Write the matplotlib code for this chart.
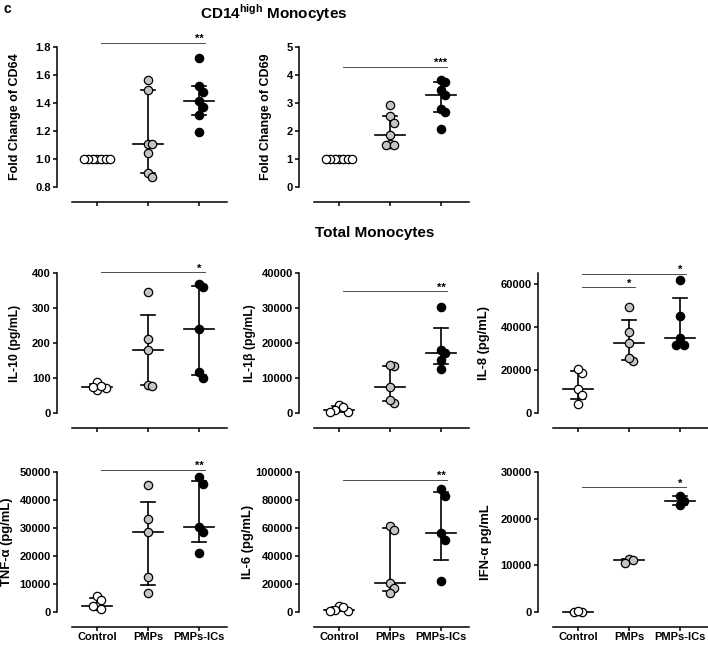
import numpy as np
import matplotlib
matplotlib.use("Agg")
import matplotlib.pyplot as plt

plt.rcParams['font.family'] = ['Liberation Sans', 'DejaVu Sans']
plt.rcParams['font.weight'] = 'bold'
plt.rcParams['mathtext.fontset'] = 'custom'
plt.rcParams['mathtext.rm'] = 'Liberation Sans:bold'
plt.rcParams['mathtext.bf'] = 'Liberation Sans:bold'

groups = ["Control", "PMPs", "PMPs-ICs"]
fills = ["white", "#c4c4c4", "black"]

# values, one list per group
cd64 = [[1.0, 1.0, 1.0, 1.0, 1.0, 1.0, 1.0],
        [1.565, 1.49, 1.11, 1.11, 1.04, 0.90, 0.875],
        [1.725, 1.52, 1.48, 1.415, 1.37, 1.315, 1.19]]
cd69 = [[1.0, 1.0, 1.0, 1.0, 1.0, 1.0, 1.0],
        [2.92, 2.54, 2.28, 1.86, 1.52, 1.50, 1.51],
        [3.82, 3.75, 3.46, 3.27, 2.80, 2.68, 2.07]]
il10 = [[88, 72, 66, 74, 78],
        [346, 212, 179, 80, 78],
        [368, 360, 240, 118, 100]]
il1b = [[2275, 760, 280, 280, 1600],
        [13400, 13700, 7400, 3000, 3700],
        [30400, 18000, 17060, 15070, 12700]]
il8 = [[18650, 20200, 11040, 8400, 4200],
       [49100, 37460, 32330, 23940, 25650],
       [61560, 45080, 34970, 31550, 31550]]
tnfa = [[2270, 1070, 5850, 2270, 4300],
        [45470, 33180, 28520, 12410, 6920],
        [48090, 45700, 30310, 28640, 21240]]
il6 = [[4300, 800, 1700, 600, 3500],
       [61100, 58700, 20500, 17200, 13400],
       [88000, 83000, 56300, 51500, 22400]]
ifna = [[100, 80, 120],
        [11300, 10600, 11100],
        [24770, 23840, 23010]]

# (row, col, ylabel, data, ylim, yticks, significance [(g0, g1, y, stars)])
panels = [
    (0, 0, "Fold Change of CD64", cd64, (0.8, 1.8), np.arange(0.8, 1.81, 0.2), [(0, 2, 1.83, "**")]),
    (0, 1, "Fold Change of CD69", cd69, (0, 5), np.arange(0, 6, 1), [(0, 2, 4.29, "***")]),
    (1, 0, "IL-10 (pg/mL)", il10, (0, 400), np.arange(0, 401, 100), [(0, 2, 402, "*")]),
    (1, 1, "IL-1β (pg/mL)", il1b, (0, 40000), np.arange(0, 40001, 10000), [(0, 2, 34800, "**")]),
    (1, 2, "IL-8 (pg/mL)", il8, (0, 65000), np.arange(0, 60001, 20000),
     [(0, 2, 64700, "*"), (0, 1, 58300, "*")]),
    (2, 0, "TNF-α (pg/mL)", tnfa, (0, 50000), np.arange(0, 50001, 10000), [(0, 2, 50800, "**")]),
    (2, 1, "IL-6 (pg/mL)", il6, (0, 100000), np.arange(0, 100001, 20000), [(0, 2, 94500, "**")]),
    (2, 2, "IFN-α pg/mL", ifna, (0, 30000), np.arange(0, 30001, 10000), [(0, 2, 26700, "*")]),
]

W, H = 708, 645
col_left = [71.5, 313.5, 552.5]
row_top = [47, 273, 472]
ax_w, ax_h = 155.5, 140
# pixel x of the right edge of each rotated y label
label_x = [[21, 272, 0], [21, 256, 490], [13, 254, 492]]
label_size = [[9, 9, 0], [8.8, 8.8, 9.4], [9.4, 9.4, 9.4]]


def swarm_offsets(ax, vals, dx=4.4, dy=7.5):
    # simple column swarm in pixel space: points closer than dy vertically
    # are pushed sideways in steps of dx
    vals = np.asarray(vals, dtype=float)
    yp = ax.transData.transform(np.column_stack([np.zeros(len(vals)), vals]))[:, 1]
    xunit = ax.transData.transform([[1, 0]])[0, 0] - ax.transData.transform([[0, 0]])[0, 0]
    placed = []
    offs = np.zeros(len(vals))
    cands = [0.0]
    for k in range(1, 20):
        cands += [k * dx, -k * dx]
    for i in np.argsort(-vals, kind="stable"):
        for c in cands:
            if all(abs(c - px) >= dx * 0.99 or abs(yp[i] - py) >= dy for px, py in placed):
                break
        placed.append((c, yp[i]))
        offs[i] = c / xunit
    return offs


fig = plt.figure(figsize=(W / 100, H / 100), dpi=100)

for row, col, ylabel, data, ylim, yticks, sigs in panels:
    ax = fig.add_axes([col_left[col] / W, 1 - (row_top[row] + ax_h) / H, ax_w / W, ax_h / H])
    ax.set_xlim(-0.5, 2.55)
    ax.set_ylim(*ylim)
    for s in ["top", "right"]:
        ax.spines[s].set_visible(False)
    ax.spines["left"].set_position(("outward", 10.5))
    ax.spines["bottom"].set_position(("outward", 11))
    for s in ["left", "bottom"]:
        ax.spines[s].set_linewidth(1.1)
    ax.set_yticks(yticks)
    if ylim[1] < 2:
        ax.set_yticklabels([f"{t:.1f}" for t in yticks])
    else:
        ax.set_yticklabels([f"{t:.0f}" for t in yticks])
    ax.set_xticks(range(3))
    if row == 2:
        ax.set_xticklabels(groups)
    else:
        ax.set_xticklabels([])
    ax.tick_params(direction="out", length=3, width=1.1, labelsize=8, pad=1.5)
    ax.tick_params(axis="x", pad=0.5)
    ax.set_ylabel(ylabel, fontsize=label_size[row][col], fontweight="bold")
    ax.yaxis.set_label_coords((label_x[row][col] - col_left[col]) / ax_w, 0.5)

    for g, vals in enumerate(data):
        q1, med, q3 = np.percentile(vals, [25, 50, 75], method="weibull")
        ax.plot([g - 0.3, g + 0.3], [med, med], color="black", lw=1.2, zorder=2, clip_on=False)
        ax.plot([g, g], [q1, q3], color="black", lw=1.2, zorder=2, clip_on=False)
        for q in (q1, q3):
            ax.plot([g - 0.14, g + 0.14], [q, q], color="black", lw=1.2, zorder=2, clip_on=False)
        offs = swarm_offsets(ax, vals)
        ax.scatter(g + offs, vals, s=36, facecolor=fills[g], edgecolor="black",
                   linewidth=0.9, zorder=3, clip_on=False)

    for g0, g1, y, stars in sigs:
        ax.plot([g0 + 0.08, g1 + 0.12], [y, y], color="0.3", lw=0.7, clip_on=False)
        ax.annotate(stars, (g1, y), xytext=(0, -1), textcoords="offset points",
                    ha="center", va="bottom", fontsize=8, fontweight="bold", annotation_clip=False)

fig.text(3 / W, 1 - 9 / H, "c", fontsize=10, fontweight="bold", va="center")
fig.text(274 / W, 1 - 13 / H, r"CD14$^{\mathbf{high}}$ Monocytes", fontsize=11, fontweight="bold",
         ha="center", va="center")
fig.text(375 / W, 1 - 233 / H, "Total Monocytes", fontsize=11, fontweight="bold",
         ha="center", va="center")

fig.savefig("out.png", dpi=100)
